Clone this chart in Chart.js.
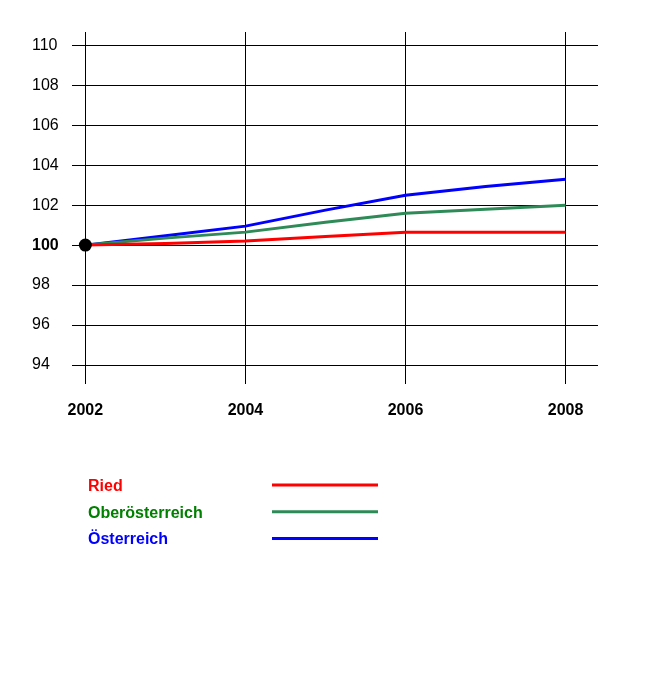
<!DOCTYPE html>
<html>
<head>
<meta charset="utf-8">
<script src="https://cdn.jsdelivr.net/npm/chart.js@4/dist/chart.umd.min.js"></script>
<style>
  body { margin: 0; background: #fff; }
  canvas { display: block; }
</style>
</head>
<body>
<canvas id="chart" width="662" height="696"></canvas>
<script>
var years = [2002, 2003, 2004, 2005, 2006, 2007, 2008];
var ried = [100, 100.08, 100.2, 100.43, 100.65, 100.65, 100.65];
var oberoesterreich = [100, 100.35, 100.65, 101.15, 101.6, 101.8, 102.0];
var oesterreich = [100, 100.47, 100.95, 101.75, 102.5, 102.93, 103.3];
var xTicks = [2002, 2004, 2006, 2008];
var yTicks = [94, 96, 98, 100, 102, 104, 106, 108, 110];
var seriesNames = ['Ried', 'Oberösterreich', 'Österreich'];

function toPoints(values) {
    return values.map(function(v, i) {
        return { x: years[i], y: v };
    });
}

var lineColors = ['#ff0000', '#2e8b57', '#0000ff'];
var textColors = ['#ff0000', '#008000', '#0000ff'];

var legendPlugin = {
    id: 'fixedLegend',
    afterDraw: function(chart) {
        var ctx = chart.ctx;
        ctx.save();
        ctx.font = 'bold 16px "Liberation Sans", Arial, sans-serif';
        ctx.textBaseline = 'middle';
        ctx.textAlign = 'left';
        for (var i = 0; i < seriesNames.length; i++) {
            var y = 485 + i * 26.7;
            ctx.fillStyle = textColors[i];
            ctx.fillText(seriesNames[i], 88, y + 1.5);
            ctx.strokeStyle = lineColors[i];
            ctx.lineWidth = 3;
            ctx.beginPath();
            ctx.moveTo(272, y);
            ctx.lineTo(378, y);
            ctx.stroke();
        }
        ctx.restore();
    }
};

var ds = [ried, oberoesterreich, oesterreich].map(function(values, i) {
    return {
        label: seriesNames[i],
        data: toPoints(values),
        borderColor: lineColors[i],
        borderWidth: 3,
        pointRadius: 0,
        tension: 0,
        fill: false
    };
});
ds.unshift({
    label: 'start',
    data: [{ x: years[0], y: ried[0] }],
    pointRadius: 6.5,
    pointBackgroundColor: '#000',
    pointBorderWidth: 0,
    showLine: false,
    order: -1
});

new Chart(document.getElementById('chart'), {
    type: 'line',
    data: { datasets: ds },
    options: {
        responsive: false,
        animation: false,
        layout: { padding: { left: 32, right: 64, top: 32, bottom: 272 } },
        plugins: { legend: { display: false }, tooltip: { enabled: false } },
        scales: {
            x: {
                type: 'linear',
                min: 2001.833,
                max: 2008.405,
                afterBuildTicks: function(scale) {
                    scale.ticks = xTicks.map(function(v) { return { value: v }; });
                },
                afterFit: function(scale) { scale.height = 40; },
                grid: { color: '#000', lineWidth: 1, drawTicks: false },
                border: { display: false },
                ticks: {
                    padding: 17,
                    color: '#000',
                    maxRotation: 0,
                    font: { family: '"Liberation Sans", Arial, sans-serif', size: 16, weight: 'bold' },
                    callback: function(v) { return String(v); }
                }
            },
            y: {
                min: 93.05,
                max: 110.665,
                afterBuildTicks: function(scale) {
                    scale.ticks = yTicks.map(function(v) { return { value: v }; });
                },
                afterFit: function(scale) { scale.width = 40; },
                grid: { color: '#000', lineWidth: 1, drawTicks: false },
                border: { display: false },
                ticks: {
                    crossAlign: 'far',
                    padding: 0,
                    color: '#000',
                    font: function(ctx) {
                        return {
                            family: '"Liberation Sans", Arial, sans-serif',
                            size: 16,
                            weight: ctx.tick && ctx.tick.value === 100 ? 'bold' : 'normal'
                        };
                    },
                    callback: function(v) { return String(v); }
                }
            }
        }
    },
    plugins: [legendPlugin]
});
</script>
</body>
</html>
